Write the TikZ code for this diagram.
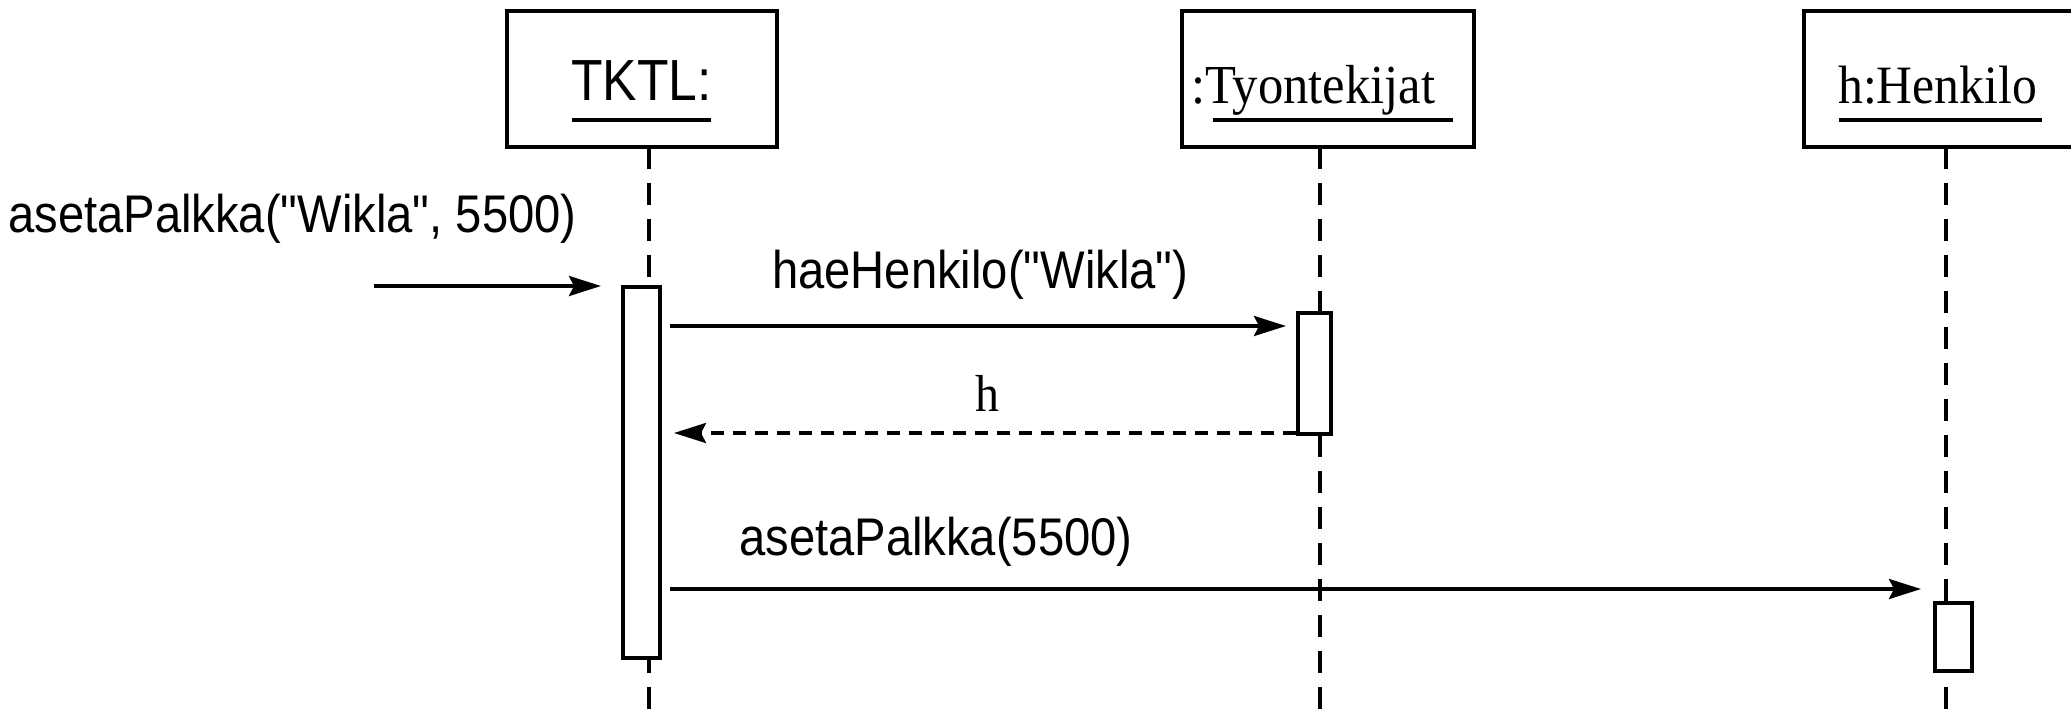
\documentclass[tikz,border=0pt]{standalone}
\usepackage{fontspec}
\setmainfont{Liberation Serif}
\setsansfont{Liberation Sans}[Ligatures=TeXOff]
\usetikzlibrary{arrows.meta}
\newcommand\sqs[1]{\scalebox{0.89}[1]{#1}}
\newcommand\sqr[1]{\scalebox{0.92}[1]{#1}}
\begin{document}
\begin{tikzpicture}[x=1pt,y=-1pt,
  objbox/.style={draw,line width=4pt,minimum height=136pt,inner sep=0pt,outer sep=0pt},
  actbox/.style={draw,fill=white,line width=4pt,inner sep=0pt,outer sep=2pt},
  lifeline/.style={line width=3.5pt,dash pattern=on 22pt off 14pt},
  msgline/.style={line width=3.5pt,-{Stealth[length=32pt,width=20pt,inset=5pt]}},
  retline/.style={msgline,dash pattern=on 13pt off 9pt},
  sanslbl/.style={anchor=base west,inner sep=0pt,font=\sffamily\fontsize{53}{60}\selectfont},
  seriflbl/.style={anchor=base west,inner sep=0pt,font=\rmfamily\fontsize{55}{62}\selectfont},
  uline/.style={line width=4pt}
]
\clip (0,0) rectangle (2071,713);
\fill[white] (0,0) rectangle (2071,713);

% object boxes
\node[objbox,minimum width=270pt] (tktl) at (642,79) {};
\node[objbox,minimum width=292pt] (tyon) at (1328,79) {};
\node[objbox,minimum width=284pt] (henk) at (1946,79) {};

\node[anchor=base west,inner sep=0pt,font=\sffamily\fontsize{58}{64}\selectfont] (tktltxt) at (571,100) {\sqs{TKTL:}};
\node[seriflbl] (tyontxt) at (1191,103) {\sqr{:Tyontekijat}};
\node[seriflbl,font=\rmfamily\fontsize{54}{60}\selectfont] (henktxt) at (1838,103) {\sqr{h:Henkilo}};
\draw[uline] (572,120) -- (711,120);
\draw[uline] (1213,120) -- (1453,120);
\draw[uline] (1839,120) -- (2042,120);

% lifelines
\coordinate (l1top) at (649,147);
\coordinate (l1bot) at (649,713);
\coordinate (l2top) at (1320,147);
\coordinate (l2bot) at (1320,713);
\coordinate (l3top) at (1946,147);
\coordinate (l3bot) at (1946,713);
\draw[lifeline] (l1top) -- (l1bot);
\draw[lifeline] (l2top) -- (l2bot);
\draw[lifeline] (l3top) -- (l3bot);

% activations
\node[actbox,minimum width=37pt,minimum height=371pt] (act1) at (641.5,472.5) {};
\node[actbox,minimum width=33pt,minimum height=121pt] (act2) at (1314.5,373.5) {};
\node[actbox,minimum width=37pt,minimum height=68pt] (act3) at (1953.5,636.5) {};

% messages
\coordinate (inStart) at (374,286);
\coordinate (m1) at (0,326);
\coordinate (m2) at (0,433);
\coordinate (m3) at (0,589);
\draw[msgline,shorten >=20pt] (inStart) -- (act1.west |- inStart);
\draw[msgline,shorten <=8pt,shorten >=10pt] (act1.east |- m1) -- (act2.west |- m1);
\draw[retline,shorten >=12pt] (act2.west |- m2) -- (act1.east |- m2);
\draw[msgline,shorten <=8pt,shorten >=12pt] (act1.east |- m3) -- (act3.west |- m3);

% labels
\node[sanslbl] (lbl0) at (8,232) {\sqs{asetaPalkka("Wikla", 5500)}};
\node[sanslbl] (lbl1) at (772,288) {\sqs{haeHenkilo("Wikla")}};
\node[seriflbl,font=\rmfamily\fontsize{52}{60}\selectfont] (lbl2) at (975,411) {\sqr{h}};
\node[sanslbl] (lbl3) at (739,555) {\sqs{asetaPalkka(5500)}};
\end{tikzpicture}
\end{document}
